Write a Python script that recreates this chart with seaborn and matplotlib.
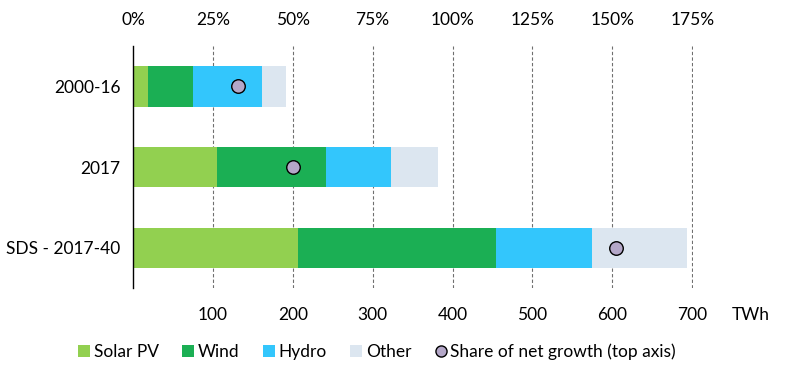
import matplotlib
matplotlib.use("Agg")
import matplotlib.pyplot as plt
import seaborn as sns
import pandas as pd
import numpy as np
from matplotlib.patches import Patch
from matplotlib.lines import Line2D

# data
periods = ["2000-16", "2017", "SDS - 2017-40"]
solar_pv = [19, 105, 207]
wind = [56, 136, 247]
hydro = [87, 82, 121]
other = [30, 59, 118]
share_net_growth = [33, 50, 151]  # percent, top axis

sources = ["Solar PV", "Wind", "Hydro", "Other"]
colors = ["#92D050", "#1BAF54", "#33C6FC", "#DCE6F0"]
marker_color = "#B4A7C8"

bottom_ticks = [100, 200, 300, 400, 500, 600, 700]
top_ticks = [0, 25, 50, 75, 100, 125, 150, 175]

sns.set_style("white")
plt.rcParams["font.family"] = ["Lato", "DejaVu Sans"]
plt.rcParams["font.size"] = 12
plt.rcParams["text.color"] = "black"
plt.rcParams["xtick.color"] = "black"
plt.rcParams["ytick.color"] = "black"

df = pd.DataFrame({"period": periods, "Solar PV": solar_pv, "Wind": wind,
                   "Hydro": hydro, "Other": other})
cum = df[sources].cumsum(axis=1)
cum["period"] = df["period"]

fig = plt.figure(figsize=(7.9, 3.82), dpi=100)
ax = fig.add_axes([133 / 790, 1 - 288 / 382, (693 - 133) / 790, (288 - 46) / 382])

# stacked bars: draw cumulative totals from the outermost layer inward
for src, col in zip(reversed(sources), reversed(colors)):
    sns.barplot(data=cum, x=src, y="period", order=periods, orient="h",
                color=col, width=0.5, linewidth=0, saturation=1, ax=ax)

xmax = 701
ax.set_xlim(0, xmax)
ax.set_ylim(2.5, -0.5)
ax.set_xticks(bottom_ticks)
ax.set_xlabel("")
ax.set_ylabel("")
ax.tick_params(axis="x", length=0, pad=14, labelsize=12.5)
ax.tick_params(axis="y", length=0, pad=9, labelsize=12.5)
ax.xaxis.grid(True, linestyle=(0, (3, 2)), color="#6f6f6f", linewidth=0.8)
ax.set_axisbelow(True)
for s in ["top", "right", "bottom"]:
    ax.spines[s].set_visible(False)
ax.spines["left"].set_color("black")
ax.spines["left"].set_linewidth(1)

# share of net growth on the top axis
ax2 = ax.twiny()
ax2.set_xlim(0, 175 * xmax / 700)
sns.scatterplot(x=share_net_growth, y=[0, 1, 2], ax=ax2, s=95,
                color=marker_color, edgecolor="black", linewidth=1, zorder=5)
ax2.set_ylim(2.5, -0.5)
ax2.set_xticks(top_ticks)
ax2.set_xticklabels([f"{t}%" for t in top_ticks])
ax2.tick_params(axis="x", length=0, pad=13, labelsize=12.5)
for s in ["top", "right", "bottom", "left"]:
    ax2.spines[s].set_visible(False)

fig.text(751 / 790, 1 - 315 / 382, "TWh", ha="center", va="center", fontsize=12.5)

handles = [Patch(facecolor=c, edgecolor="none") for c in colors]
handles.append(Line2D([], [], marker="o", linestyle="none", markersize=8,
                      markerfacecolor=marker_color, markeredgecolor="black",
                      markeredgewidth=1))
fig.legend(handles, sources + ["Share of net growth (top axis)"],
           loc="center", bbox_to_anchor=(377 / 790, 1 - 352 / 382), ncol=5,
           frameon=False, handlelength=0.7, handleheight=0.7,
           handletextpad=0.2, columnspacing=1.35, fontsize=12.5)

fig.savefig("out.png", dpi=100)
